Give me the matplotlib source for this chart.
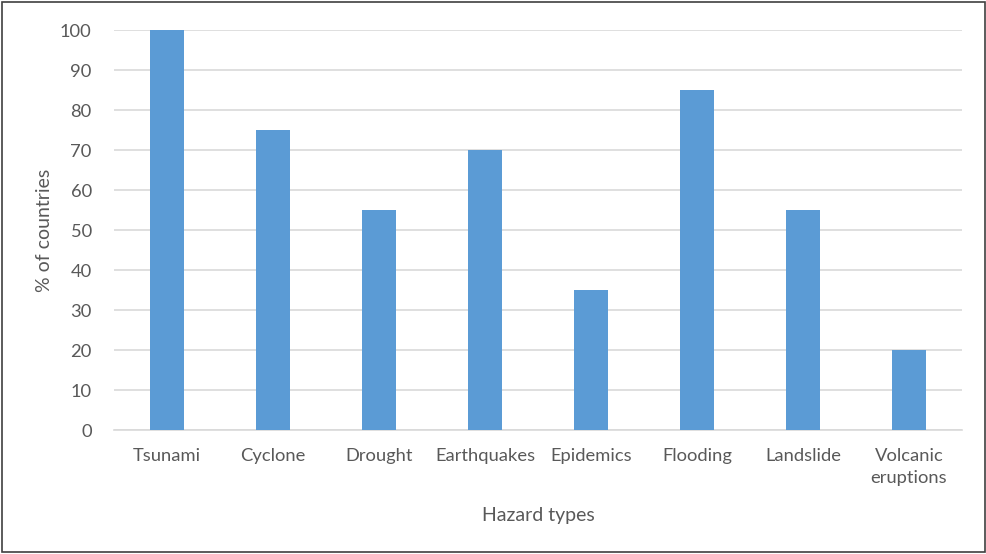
import matplotlib
matplotlib.use("Agg")
import matplotlib.pyplot as plt
from matplotlib.patches import Rectangle

# data
hazards = ["Tsunami", "Cyclone", "Drought", "Earthquakes", "Epidemics",
           "Flooding", "Landslide", "Volcanic\neruptions"]
pct_countries = [100, 75, 55, 70, 35, 85, 55, 20]
y_ticks = list(range(0, 101, 10))

TEXT = "#595959"
plt.rcParams["font.family"] = ["Lato", "DejaVu Sans"]

fig = plt.figure(figsize=(9.87, 5.54), dpi=100)
ax = fig.add_axes([0.1155, 0.2238, 0.8592, 0.722])

x = range(len(hazards))
ax.bar(x, pct_countries, width=0.32, color="#5B9BD5", zorder=3)

ax.set_xlim(-0.5, len(hazards) - 0.5)
ax.set_ylim(0, 100)
ax.set_yticks(y_ticks)
ax.set_xticks(list(x))
ax.set_xticklabels(hazards, linespacing=1.45)
ax.yaxis.grid(True, color="#D9D9D9", linewidth=1.2, zorder=0)
ax.tick_params(length=0, labelsize=13.2, colors=TEXT)
ax.tick_params(axis="x", pad=13)
ax.tick_params(axis="y", pad=16)
for side in ["top", "right", "left"]:
    ax.spines[side].set_visible(False)
ax.spines["bottom"].set_color("#D9D9D9")
ax.spines["bottom"].set_linewidth(1.2)

ax.set_xlabel("Hazard types", fontsize=14, color=TEXT, labelpad=15)
ax.set_ylabel("% of countries", fontsize=14, color=TEXT, labelpad=5)

# outer frame
fig.patches.append(Rectangle((0.002, 0.004), 0.996, 0.992, transform=fig.transFigure,
                             fill=False, edgecolor="#404040", linewidth=1.2))

fig.savefig("out.png", dpi=100)
